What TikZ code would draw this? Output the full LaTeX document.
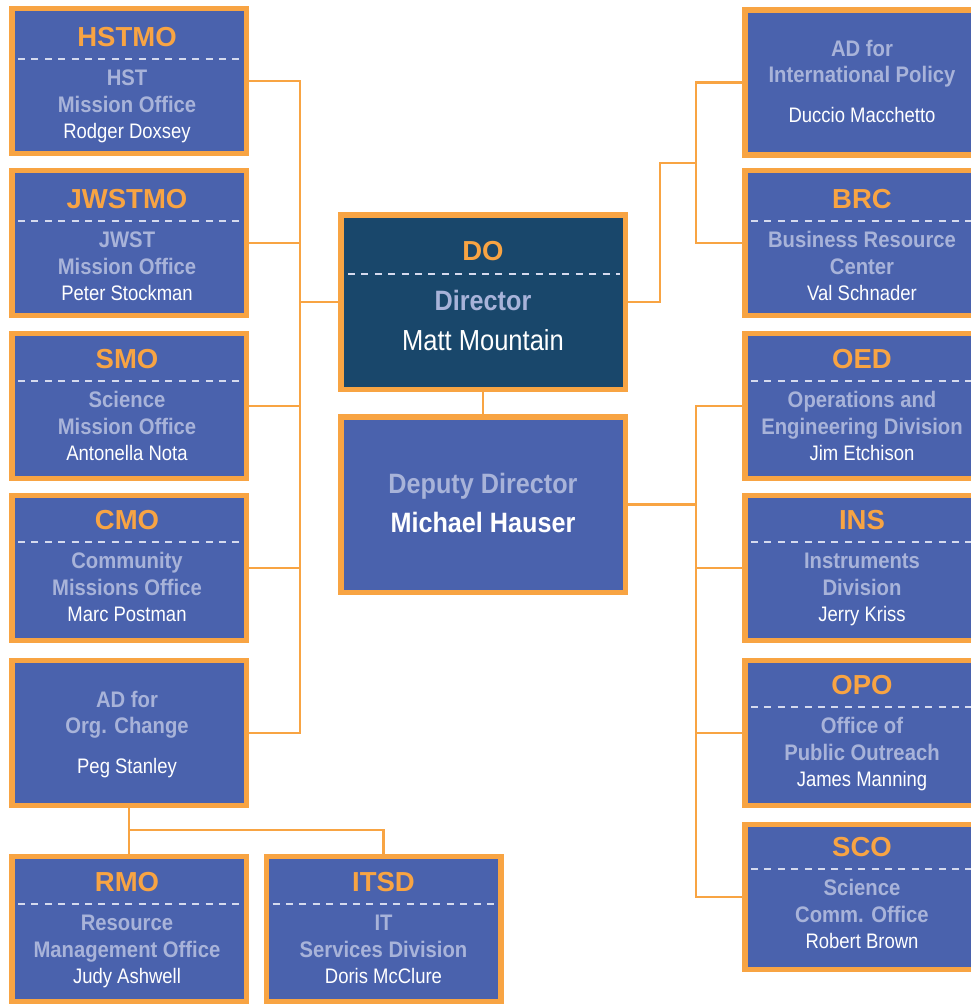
\documentclass[tikz,border=0pt]{standalone}
\usepackage{fontspec}
\setmainfont{Liberation Sans}
\newfontfamily\namefont{Liberation Sans}[FakeStretch=0.88]
\newfontfamily\condfont{Liberation Sans}[FakeStretch=0.9]
\usetikzlibrary{calc}
\definecolor{borange}{HTML}{F8A443}
\definecolor{ublue}{HTML}{4A62AD}
\definecolor{navy}{HTML}{19476B}
\definecolor{lav}{HTML}{A8B3D9}
\definecolor{sepc}{HTML}{D5DAEE}
\tikzset{
  unitbox/.style={draw=borange, fill=ublue, line width=5.5pt, minimum width=234.5pt, minimum height=145pt, inner sep=0pt},
  abbrtxt/.style={text=borange, font=\fontsize{27.5pt}{30pt}\selectfont\bfseries, anchor=base, inner sep=0pt},
  titletxt/.style={text=lav, font=\condfont\fontsize{22.5pt}{25pt}\selectfont\bfseries, anchor=base, inner sep=0pt},
  bigtitle/.style={text=lav, font=\condfont\fontsize{28pt}{31pt}\selectfont\bfseries, anchor=base, inner sep=0pt},
  persontxt/.style={text=white, font=\namefont\fontsize{21pt}{24pt}\selectfont, anchor=base, inner sep=0pt},
  bigperson/.style={text=white, font=\namefont\fontsize{29pt}{32pt}\selectfont, anchor=base, inner sep=0pt},
  sepline/.style={draw=sepc, line width=1.3pt, dash pattern=on 7pt off 6.4pt},
  conn/.style={draw=borange, line width=2.6pt},
}
% #1 name, #2 box x, #3 box y, #4 text x, #5 first title baseline, #6 abbr, #7 title1, #8 title2, #9 person
\newcommand\OrgUnit[9]{%
  \node[unitbox] (#1) at (#2,#3) {};
  \node[abbrtxt] (#1-ab) at (#4,#5-39) {#6};
  \draw[sepline] ($(#1.west |- 0,#5-26)+(9,0)$) -- ($(#1.east |- 0,#5-26)+(-9,0)$);
  \node[titletxt] (#1-t1) at (#4,#5) {#7};
  \node[titletxt] (#1-t2) at (#4,#5+27) {#8};
  \node[persontxt] (#1-p) at (#4,#5+53) {#9};
}
\newcommand\AdUnit[6]{%
  \node[unitbox] (#1) at (#2,#3) {};
  \node[titletxt] (#1-t1) at (#4,#3-26) {AD for};
  \node[titletxt] (#1-t2) at (#4,#3) {#5};
  \node[persontxt] (#1-p) at (#4,#3+40) {#6};
}
\begin{document}
\begin{tikzpicture}[x=1pt,y=-1pt]
\useasboundingbox (0,0) rectangle (971,1004);
\clip (0,0) rectangle (971,1004);
% left column
\OrgUnit{hst}{129}{81}{127}{85}{HSTMO}{HST}{Mission Office}{Rodger Doxsey}
\OrgUnit{jw}{129}{243}{127}{247}{JWSTMO}{JWST}{Mission Office}{Peter Stockman}
\OrgUnit{smo}{129}{406}{127}{407}{SMO}{Science}{Mission Office}{Antonella Nota}
\OrgUnit{cmo}{129}{568}{127}{568}{CMO}{Community}{Missions Office}{Marc Postman}
\AdUnit{adoc}{129}{733}{127}{Org. Change}{Peg Stanley}
\OrgUnit{rmo}{129}{929}{127}{930}{RMO}{Resource}{Management Office}{Judy Ashwell}
\OrgUnit{itsd}{383.5}{929}{383.5}{930}{ITSD}{IT}{Services Division}{Doris McClure}
% right column
\AdUnit{adi}{862}{82.5}{862}{International Policy}{Duccio Macchetto}
\OrgUnit{brc}{862}{243}{862}{247}{BRC}{Business Resource}{Center}{Val Schnader}
\OrgUnit{oed}{862}{406}{862}{407}{OED}{Operations and}{Engineering Division}{Jim Etchison}
\OrgUnit{ins}{862}{568}{862}{568}{INS}{Instruments}{Division}{Jerry Kriss}
\OrgUnit{opo}{862}{733}{862}{733}{OPO}{Office of}{Public Outreach}{James Manning}
\OrgUnit{sco}{862}{897}{862}{895}{SCO}{Science}{Comm. Office}{Robert Brown}
% centre
\node[unitbox, fill=navy, minimum width=284.5pt, minimum height=174.5pt] (do) at (483,302) {};
\node[abbrtxt] (do-ab) at (483,260) {DO};
\draw[sepline] ($(do.west)+(10,-28)$) -- ($(do.east)+(-8,-28)$);
\node[bigtitle] (do-t) at (483,310) {Director};
\node[bigperson] (do-p) at (483,350) {Matt Mountain};
\node[unitbox, minimum width=284.5pt, minimum height=175.5pt] (dep) at (483,504.5) {};
\node[bigtitle] (dep-t) at (483,493) {Deputy Director};
\node[bigtitle, text=white] (dep-p) at (483,532) {Michael Hauser};
% connectors
\coordinate (lsp) at (300,0);
\coordinate (rsp) at (696,0);
\coordinate (rj) at (660,163);
\coordinate (bj) at (129,830);
\draw[conn] (hst.east) -- (hst.east -| lsp) -- (adoc.east -| lsp) -- (adoc.east);
\foreach \n in {jw,smo,cmo} \draw[conn] (\n.east) -- (\n.east -| lsp);
\draw[conn] (do.west) -- (do.west -| lsp);
\draw[conn] (do.east) -| (rj) -- (rj -| rsp);
\draw[conn] (adi.west) -- (adi.west -| rsp) -- (brc.west -| rsp) -- (brc.west);
\draw[conn] (dep.east) -- (dep.east -| rsp);
\draw[conn] (oed.west) -- (oed.west -| rsp) -- (sco.west -| rsp) -- (sco.west);
\foreach \n in {ins,opo} \draw[conn] (\n.west) -- (\n.west -| rsp);
\draw[conn] (do.south) -- (dep.north);
\draw[conn] (adoc.south) -- (rmo.north);
\draw[conn] (adoc.south |- bj) -| (itsd.north);
\end{tikzpicture}
\end{document}
